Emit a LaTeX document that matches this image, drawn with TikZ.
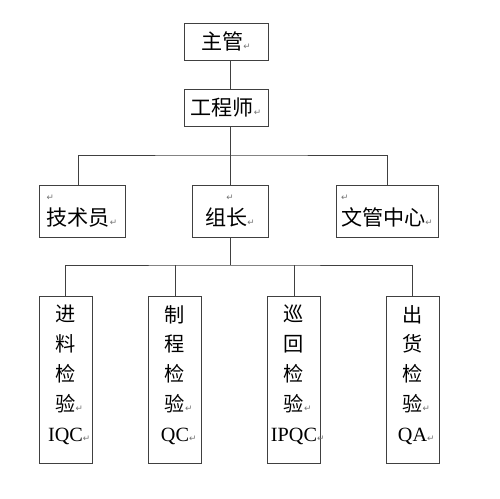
\documentclass[tikz,border=0pt]{standalone}
\usepackage{fontspec}
\setmainfont{Liberation Serif}
\newfontfamily\cjk{Noto Sans CJK SC}
\newfontfamily\markfont{DejaVu Sans}
\newcommand\pmark{{\markfont\fontsize{5}{5}\selectfont\textcolor{black!55}{↵}}}

\tikzset{
  box/.style={draw=black!75, line width=0.5pt, inner sep=0pt,
    font=\cjk\fontsize{12}{14}\selectfont},
  post/.style={box, minimum width=1.06cm, minimum height=3.34cm, align=center,
    font=\cjk\fontsize{11.5}{17}\selectfont},
  link/.style={draw=black!75, line width=0.5pt},
}

\begin{document}
\begin{tikzpicture}[x=0.02cm, y=-0.02cm]
  \useasboundingbox (0,0) rectangle (500,499);

  % top of the chart
  \node[box, minimum width=1.68cm, minimum height=0.74cm] (boss) at (226,41.5) {主管\pmark};
  \node[box, minimum width=1.68cm, minimum height=0.74cm] (eng) at (226,107.5) {工程师\pmark};

  % middle row
  \node[box, minimum width=1.72cm, minimum height=1.04cm, align=left] (tech) at (82,211) {\pmark\\技术员\pmark};
  \node[box, minimum width=1.52cm, minimum height=1.04cm, align=center] (lead) at (230,211) {\pmark\\组长\pmark};
  \node[box, minimum width=2.04cm, minimum height=1.04cm, align=left] (office) at (387,211) {\pmark\\文管中心\pmark};

  % inspection posts
  \node[post] (iqc) at (65.5,379.5) {进\\料\\检\\验\rlap{\pmark}\\{\rmfamily IQC}\rlap{\pmark}\\[-10pt]\mbox{}};
  \node[post] (qc) at (175,379.5) {制\\程\\检\\验\rlap{\pmark}\\{\rmfamily QC}\rlap{\pmark}\\[-10pt]\mbox{}};
  \node[post] (ipqc) at (294,379.5) {巡\\回\\检\\验\rlap{\pmark}\\{\rmfamily IPQC}\rlap{\pmark}\\[-10pt]\mbox{}};
  \node[post] (qa) at (412.5,379.5) {出\\货\\检\\验\rlap{\pmark}\\{\rmfamily QA}\rlap{\pmark}\\[-10pt]\mbox{}};

  \coordinate (bus1) at (230,155);
  \coordinate (bus2) at (230,265);

  \draw[link] (boss.south -| bus1) -- (eng.north -| bus1);
  \draw[link] (eng.south -| bus1) -- (bus1);
  \draw[link] ([xshift=-0.08cm]tech.north) |- (bus1) -| (office.north);
  \draw[link] (bus1) -- (lead.north);

  \draw[link] (lead.south) -- (bus2);
  \draw[link] (iqc.north) |- (bus2) -| (qa.north);
  \draw[link] (qc.north) -- (qc.north |- bus2);
  \draw[link] (ipqc.north) -- (ipqc.north |- bus2);
\end{tikzpicture}
\end{document}
